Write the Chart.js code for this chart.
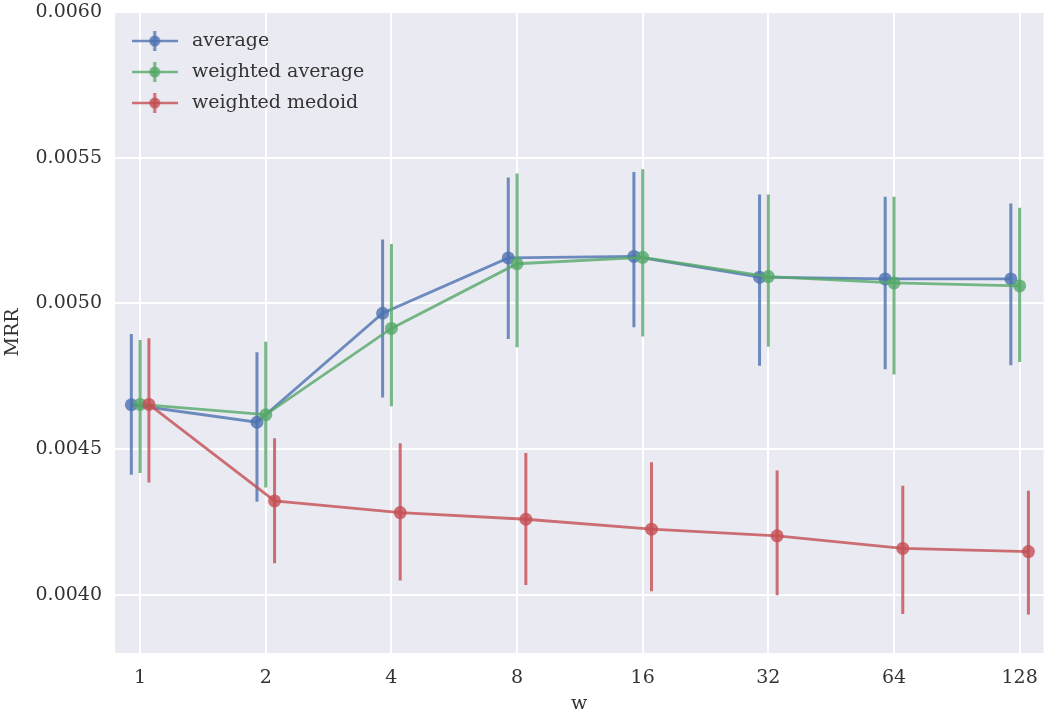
<!DOCTYPE html>
<html lang="en">
<head>
  <meta charset="UTF-8">
  <title>MRR vs w</title>
  <script src="https://cdn.jsdelivr.net/npm/chart.js"></script>
  <style>
    body { margin: 0; background: #ffffff; }
    #wrap { width: 1050px; height: 715px; }
  </style>
</head>
<body>
  <div id="wrap"><canvas id="mrrChart"></canvas></div>
  <script>
    const categories = ['1', '2', '4', '8', '16', '32', '64', '128'];
    const yTicks = [0.0040, 0.0045, 0.0050, 0.0055, 0.0060];

    const avgMean = [0.004652, 0.004592, 0.004966, 0.005156, 0.005161, 0.005090, 0.005084, 0.005084];
    const avgLow  = [0.004412, 0.004319, 0.004677, 0.004878, 0.004918, 0.004786, 0.004774, 0.004788];
    const avgHigh = [0.004895, 0.004832, 0.005219, 0.005432, 0.005451, 0.005374, 0.005366, 0.005343];

    const wavgMean = [0.004653, 0.004618, 0.004914, 0.005136, 0.005158, 0.005092, 0.005070, 0.005060];
    const wavgLow  = [0.004418, 0.004368, 0.004647, 0.004849, 0.004886, 0.004851, 0.004756, 0.004799];
    const wavgHigh = [0.004874, 0.004868, 0.005204, 0.005446, 0.005460, 0.005374, 0.005366, 0.005328];

    const medMean = [0.004653, 0.004322, 0.004282, 0.004259, 0.004225, 0.004202, 0.004159, 0.004148];
    const medLow  = [0.004385, 0.004108, 0.004049, 0.004033, 0.004012, 0.003998, 0.003934, 0.003932];
    const medHigh = [0.004880, 0.004537, 0.004520, 0.004486, 0.004455, 0.004426, 0.004374, 0.004357];

    const FONT = 'DejaVu Serif';
    const TEXT = '#333333';

    function points(mean, shift) {
      return categories.map((c, i) => ({ x: i + shift, y: mean[i] }));
    }

    // small icon for the legend: line, vertical error bar and a dot
    function legendIcon(color) {
      const c = document.createElement('canvas');
      c.width = 46; c.height = 22;
      const g = c.getContext('2d');
      g.strokeStyle = color;
      g.lineWidth = 2.5;
      g.beginPath(); g.moveTo(0, 11); g.lineTo(46, 11); g.stroke();
      g.lineWidth = 3;
      g.beginPath(); g.moveTo(23, 1); g.lineTo(23, 21); g.stroke();
      g.fillStyle = color;
      g.beginPath(); g.arc(23, 11, 5.5, 0, Math.PI * 2); g.fill();
      return c;
    }

    const plotBackground = {
      id: 'plotBackground',
      beforeDraw(chart) {
        const { ctx, chartArea: a } = chart;
        ctx.save();
        ctx.fillStyle = '#EAEAF2';
        ctx.fillRect(a.left, a.top, a.right - a.left, a.bottom - a.top);
        ctx.restore();
      }
    };

    const errorBars = {
      id: 'errorBars',
      beforeDatasetDraw(chart, args) {
        const ds = chart.data.datasets[args.index];
        if (!ds.errLow) return;
        const { ctx, chartArea: a } = chart;
        const xs = chart.scales.x, ys = chart.scales.y;
        ctx.save();
        ctx.beginPath();
        ctx.rect(a.left, a.top, a.right - a.left, a.bottom - a.top);
        ctx.clip();
        ctx.strokeStyle = ds.borderColor;
        ctx.lineWidth = 3;
        ds.data.forEach((p, i) => {
          const px = xs.getPixelForValue(p.x);
          ctx.beginPath();
          ctx.moveTo(px, ys.getPixelForValue(ds.errLow[i]));
          ctx.lineTo(px, ys.getPixelForValue(ds.errHigh[i]));
          ctx.stroke();
        });
        ctx.restore();
      }
    };

    const blue = 'rgba(76, 114, 176, 0.8)';
    const green = 'rgba(85, 168, 104, 0.8)';
    const red = 'rgba(196, 78, 82, 0.8)';

    function series(label, mean, low, high, shift, color, order) {
      return {
        label,
        data: points(mean, shift),
        errLow: low,
        errHigh: high,
        borderColor: color,
        backgroundColor: color,
        borderWidth: 2.8,
        pointRadius: 6.5,
        pointHoverRadius: 6.5,
        pointBorderWidth: 0,
        tension: 0,
        order
      };
    }

    const datasets = [
      series('average', avgMean, avgLow, avgHigh, -0.07, blue, 3),
      series('weighted average', wavgMean, wavgLow, wavgHigh, 0, green, 2),
      series('weighted medoid', medMean, medLow, medHigh, 0.07, red, 1)
    ];

    new Chart(document.getElementById('mrrChart'), {
      type: 'line',
      data: { datasets },
      options: {
        responsive: true,
        maintainAspectRatio: false,
        animation: false,
        layout: { padding: { top: 12, right: 1, left: 0, bottom: 0 } },
        scales: {
          x: {
            type: 'linear',
            min: -0.2,
            max: 7.19,
            afterBuildTicks(scale) {
              scale.ticks = categories.map((c, i) => ({ value: i }));
            },
            afterFit(scale) {
              scale.height = 62;
              scale.paddingLeft = 0;
              scale.paddingRight = 0;
            },
            border: { display: false },
            grid: { color: '#ffffff', lineWidth: 2, drawTicks: false },
            ticks: {
              padding: 14,
              color: TEXT,
              font: { family: FONT, size: 19 },
              callback: (v) => categories[Math.round(v)]
            },
            title: {
              display: true, text: 'w', color: TEXT,
              font: { family: FONT, size: 19 },
              padding: { top: 2, bottom: 0 }
            }
          },
          y: {
            min: 0.0038,
            max: 0.0060,
            afterBuildTicks(scale) {
              scale.ticks = yTicks.map(v => ({ value: v }));
            },
            afterFit(scale) {
              scale.width = 115;
              scale.paddingTop = 0;
              scale.paddingBottom = 0;
            },
            border: { display: false },
            grid: { color: '#ffffff', lineWidth: 2, drawTicks: false },
            ticks: {
              padding: 13,
              color: TEXT,
              font: { family: FONT, size: 19 },
              callback: (v) => v.toFixed(4)
            },
            title: {
              display: true, text: 'MRR', color: TEXT,
              font: { family: FONT, size: 19 },
              padding: { top: 2, bottom: 0 }
            }
          }
        },
        plugins: {
          tooltip: { enabled: false },
          legend: {
            position: 'chartArea',
            align: 'start',
            title: { display: true, text: '', font: { size: 1, lineHeight: 1.5 }, padding: { top: 0, bottom: 18 } },
            labels: {
              usePointStyle: true,
              pointStyleWidth: 55.5,
              padding: 12,
              color: TEXT,
              font: { family: FONT, size: 19 },
              generateLabels(chart) {
                return chart.data.datasets.map((ds, i) => ({
                  text: ds.label,
                  pointStyle: legendIcon(ds.borderColor),
                  fillStyle: ds.borderColor,
                  strokeStyle: ds.borderColor,
                  lineWidth: 0,
                  fontColor: TEXT,
                  hidden: false,
                  datasetIndex: i
                }));
              }
            }
          }
        }
      },
      plugins: [plotBackground, errorBars]
    });
  </script>
</body>
</html>
